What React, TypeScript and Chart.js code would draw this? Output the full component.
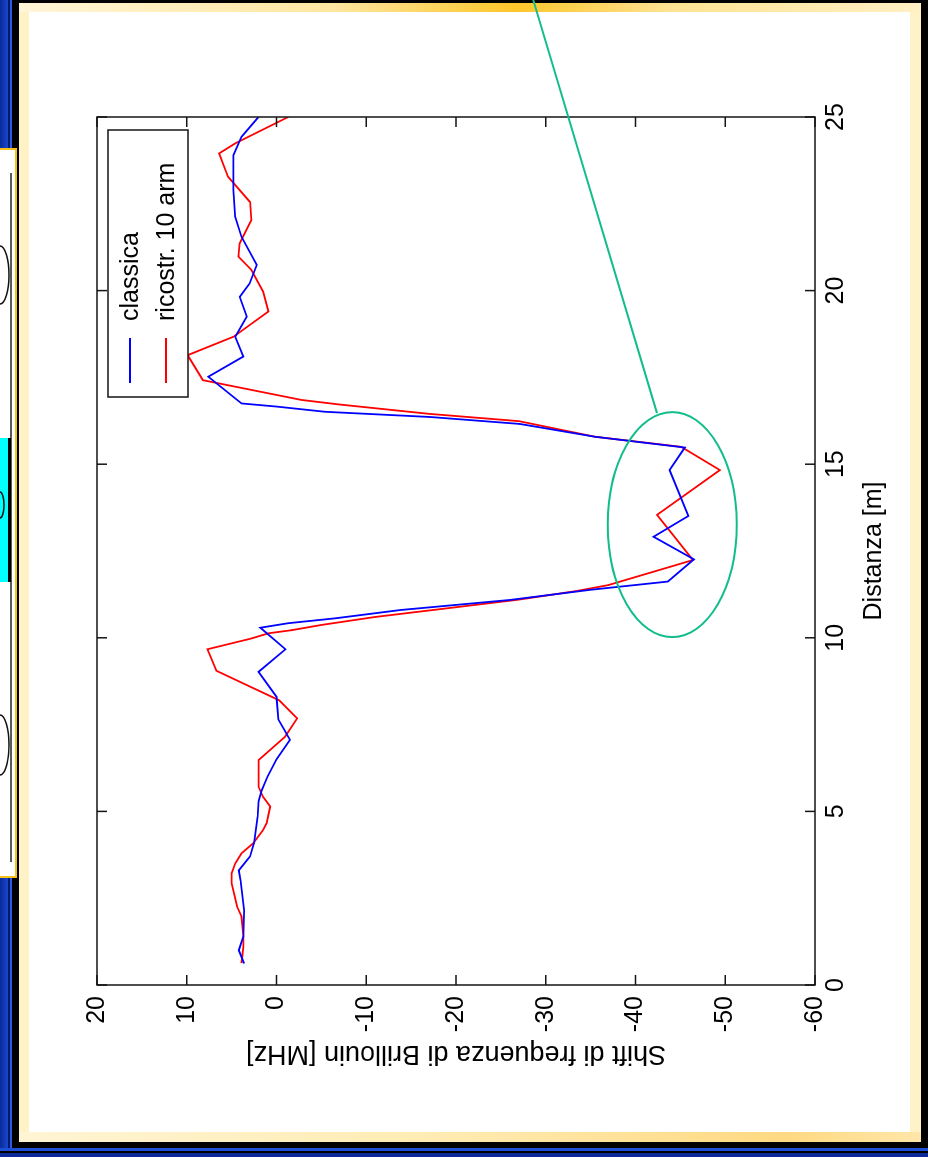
import React, { useEffect, useRef } from 'react';
import { Chart, registerables } from 'chart.js';

Chart.register(...registerables);

// Series names
const SERIES_NAMES = ['classica', 'ricostr. 10 arm'];

// "classica": distance [m] and Brillouin shift [MHz]
const classicaDist = [
  0.62, 1.0, 1.4, 2.15, 3.0, 3.3, 3.7, 4.1, 4.85, 5.3,
  5.6, 6.0, 6.5, 7.06, 7.34, 7.65, 8.3, 9.02, 9.67, 10.29,
  10.42, 10.56, 10.8, 11.09, 11.38, 11.62, 12.26, 12.91, 13.51, 14.83,
  15.48, 15.79, 16.16, 16.36, 16.51, 16.66, 16.75, 17.52, 18.1, 18.67,
  19.25, 19.82, 20.2, 20.74, 21.55, 22.13, 22.9, 23.9, 24.43, 25.0,
];
const classicaShift = [
  3.6, 4.2, 3.7, 3.6, 4.0, 4.2, 2.95, 2.5, 2.1, 2.0,
  1.65, 1.0, 0.0, -1.5, -0.9, -0.2, 0.0, 2.0, -1.0, 1.8,
  -1.3, -6.5, -13.8, -26.0, -34.9, -43.6, -46.5, -42.0, -45.9, -43.8,
  -45.5, -35.5, -27.1, -17.1, -5.4, 0.0, 3.9, 7.6, 3.7, 4.6,
  3.3, 4.1, 3.0, 2.2, 3.9, 4.6, 4.8, 4.8, 3.9, 2.0,
];

// "ricostr. 10 arm": distance [m] and Brillouin shift [MHz]
const ricostrDist = [
  0.63, 1.1, 1.4, 1.97, 2.26, 2.93, 3.22, 3.5, 3.79, 4.08,
  4.46, 4.66, 5.14, 5.42, 5.71, 6.48, 7.15, 7.68, 8.2, 9.05,
  9.67, 9.98, 10.13, 10.22, 10.37, 10.6, 10.85, 11.1, 11.35, 11.52,
  12.24, 13.54, 14.83, 15.5, 15.79, 16.24, 16.45, 16.72, 16.85, 17.42,
  18.14, 18.67, 19.4, 19.97, 20.6, 20.98, 21.36, 22.03, 22.55, 23.28,
  23.95, 24.24, 25.0,
];
const ricostrShift = [
  3.9, 3.7, 3.7, 3.9, 4.4, 5.0, 5.0, 4.6, 3.9, 2.6,
  1.5, 1.1, 0.7, 1.5, 2.0, 2.0, -0.95, -2.3, -0.3, 6.7,
  7.7, 2.8, 0.9, -1.7, -5.0, -11.0, -19.0, -27.0, -33.5, -37.0,
  -46.4, -42.4, -49.4, -45.1, -35.5, -27.0, -17.0, -7.0, -2.8, 8.2,
  9.9, 4.8, 0.9, 1.5, 2.8, 4.25, 4.1, 2.8, 2.95, 5.4,
  6.4, 4.6, -1.3,
];

// Axis ranges and tick steps
const DIST_MIN = 0;
const DIST_MAX = 25;
const DIST_STEP = 5;
const SHIFT_MIN = -60;
const SHIFT_MAX = 20;
const SHIFT_STEP = 10;

const X_TITLE = 'Distanza [m]';
const Y_TITLE = 'Shift di frequenza di Brillouin [MHz]';

// Highlighted region (ellipse in data units) and its pointer line
const HILITE_DIST = 13.26;
const HILITE_SHIFT = -44.1;
const HILITE_RDIST = 3.24;
const HILITE_RSHIFT = 7.19;
const POINTER_FROM = [28.46, -28.5];
const POINTER_TO = [16.47, -42.4];

const FONT = '"Liberation Sans", Arial, Helvetica, sans-serif';
const GREEN = '#12bd8b';
const SERIES_COLORS = ['#0000ff', '#ff0000'];

const axesPlugin = {
  id: 'matlabAxes',
  afterDatasetsDraw(chart: any) {
    const { ctx, chartArea } = chart;
    const { left, right, top, bottom } = chartArea;
    const xs = chart.scales.x;
    const ys = chart.scales.y;
    ctx.save();
    // axes box
    ctx.strokeStyle = '#151515';
    ctx.lineWidth = 1.5;
    ctx.strokeRect(left, top, right - left, bottom - top);
    // inward ticks on all four sides
    ctx.beginPath();
    const TL = 10;
    xs.ticks.forEach((t: any) => {
      const p = xs.getPixelForValue(t.value);
      ctx.moveTo(p, bottom);
      ctx.lineTo(p, bottom - TL);
      ctx.moveTo(p, top);
      ctx.lineTo(p, top + TL);
    });
    ys.ticks.forEach((t: any) => {
      const p = ys.getPixelForValue(t.value);
      ctx.moveTo(left, p);
      ctx.lineTo(left + TL, p);
      ctx.moveTo(right, p);
      ctx.lineTo(right - TL, p);
    });
    ctx.stroke();

    // legend box in the upper-right corner
    const bx = right - 280;
    const by = top + 11;
    const bw = 267;
    const bh = 80;
    ctx.fillStyle = '#ffffff';
    ctx.fillRect(bx, by, bw, bh);
    ctx.strokeStyle = '#151515';
    ctx.lineWidth = 1.5;
    ctx.strokeRect(bx, by, bw, bh);
    ctx.font = `25px ${FONT}`;
    ctx.textBaseline = 'middle';
    ctx.textAlign = 'left';
    chart.data.datasets.forEach((ds: any, i: number) => {
      const rowY = by + 22 + i * 36;
      ctx.strokeStyle = ds.borderColor;
      ctx.lineWidth = 1.8;
      ctx.beginPath();
      ctx.moveTo(bx + 14, rowY);
      ctx.lineTo(bx + 59, rowY);
      ctx.stroke();
      ctx.fillStyle = '#000000';
      ctx.fillText(ds.label, bx + 76, rowY + 1);
    });
    ctx.restore();
  },
  afterDraw(chart: any) {
    const { ctx } = chart;
    const xs = chart.scales.x;
    const ys = chart.scales.y;
    const cx = xs.getPixelForValue(HILITE_DIST);
    const cy = ys.getPixelForValue(HILITE_SHIFT);
    const rx = Math.abs(xs.getPixelForValue(HILITE_DIST + HILITE_RDIST) - cx);
    const ry = Math.abs(ys.getPixelForValue(HILITE_SHIFT + HILITE_RSHIFT) - cy);
    ctx.save();
    ctx.strokeStyle = GREEN;
    ctx.lineWidth = 2;
    ctx.beginPath();
    ctx.ellipse(cx, cy, rx, ry, 0, 0, Math.PI * 2);
    ctx.stroke();
    ctx.beginPath();
    ctx.moveTo(xs.getPixelForValue(POINTER_FROM[0]), ys.getPixelForValue(POINTER_FROM[1]));
    ctx.lineTo(xs.getPixelForValue(POINTER_TO[0]), ys.getPixelForValue(POINTER_TO[1]));
    ctx.stroke();
    ctx.restore();
  },
};

function ShiftChart() {
  const ref = useRef<HTMLCanvasElement | null>(null);
  useEffect(() => {
    if (!ref.current) return;
    const makeData = (d: number[], v: number[]) => d.map((x, i) => ({ x, y: v[i] }));
    const chart = new Chart(ref.current, {
      type: 'line',
      data: {
        datasets: [
          {
            label: SERIES_NAMES[0],
            data: makeData(classicaDist, classicaShift),
            borderColor: SERIES_COLORS[0],
            borderWidth: 1.8,
            pointRadius: 0,
            fill: false,
            tension: 0,
          },
          {
            label: SERIES_NAMES[1],
            data: makeData(ricostrDist, ricostrShift),
            borderColor: SERIES_COLORS[1],
            borderWidth: 1.8,
            pointRadius: 0,
            fill: false,
            tension: 0,
          },
        ],
      },
      options: {
        responsive: false,
        maintainAspectRatio: false,
        animation: false,
        devicePixelRatio: 1,
        layout: { padding: { top: 97, right: 117, left: 0, bottom: 0 } },
        plugins: { legend: { display: false }, tooltip: { enabled: false } },
        scales: {
          x: {
            type: 'linear',
            position: 'bottom',
            min: DIST_MIN,
            max: DIST_MAX,
            ticks: {
              stepSize: DIST_STEP,
              autoSkip: false,
              maxRotation: 0,
              minRotation: 0,
              padding: 6,
              color: '#000',
              font: { family: FONT, size: 25 },
            },
            grid: { display: false, drawTicks: false, tickLength: 0 },
            border: { display: false },
            title: {
              display: true,
              text: X_TITLE,
              color: '#000',
              font: { family: FONT, size: 25 },
              padding: { top: 0, bottom: 39 },
            },
            afterFit: (s: any) => {
              s.height = 113;
            },
          },
          y: {
            type: 'linear',
            position: 'left',
            min: SHIFT_MIN,
            max: SHIFT_MAX,
            ticks: {
              stepSize: SHIFT_STEP,
              autoSkip: false,
              padding: 11,
              color: '#000',
              font: { family: FONT, size: 25 },
            },
            grid: { display: false, drawTicks: false, tickLength: 0 },
            border: { display: false },
            title: {
              display: true,
              text: Y_TITLE,
              color: '#000',
              font: { family: FONT, size: 27 },
              padding: { top: 87, bottom: 0 },
            },
            afterFit: (s: any) => {
              s.width = 172;
            },
          },
        },
      } as any,
      plugins: [axesPlugin],
    });
    return () => chart.destroy();
  }, []);
  return <canvas ref={ref} width={1157} height={928} style={{ width: 1157, height: 928, display: 'block' }} />;
}

const rect = (left: number, top: number, width: number, height: number, background: string): React.CSSProperties => ({
  position: 'absolute',
  left,
  top,
  width,
  height,
  background,
});

export default function App() {
  return (
    <div style={{ position: 'absolute', left: 0, top: 0, width: 928, height: 1157, overflow: 'hidden', background: '#0c2ea6' }}>
      {/* slide background stripes */}
      <div style={rect(0, 0, 8, 1157, 'linear-gradient(to right,#0a2a9a,#1848cc)')} />
      <div style={rect(8, 0, 2, 1157, '#061a66')} />
      <div style={rect(10, 0, 2, 1157, '#2a5ae6')} />
      <div style={rect(0, 1148, 928, 3, '#1f4fd8')} />
      <div style={rect(0, 1151, 928, 2, '#000')} />
      <div style={rect(0, 1153, 928, 4, '#0b2a98')} />
      {/* picture frame */}
      <div style={rect(12, 0, 916, 1148, '#000')} />
      <div style={rect(19, 3, 902, 1139, '#fff2c6')} />
      <div
        style={rect(
          19,
          3,
          902,
          9,
          'linear-gradient(to right,#fff6d8 0%,#ffe7a0 35%,#ffc62a 55%,#ffe392 72%,#fff0c4 100%)'
        )}
      />
      <div
        style={rect(
          19,
          1132,
          902,
          10,
          'linear-gradient(to right,#fff5d4 0%,#ffecb4 45%,#ffd982 85%,#ffe6a8 100%)'
        )}
      />
      <div style={rect(29, 12, 881, 1120, '#ffffff')} />
      {/* neighbouring slide object at the left edge */}
      <div
        style={{
          position: 'absolute',
          left: 0,
          top: 148,
          width: 17,
          height: 730,
          background: '#fff',
          borderTop: '2px solid #f6c21a',
          borderRight: '2px solid #f6c21a',
          borderBottom: '2px solid #f6c21a',
          boxSizing: 'border-box',
        }}
      />
      <div style={rect(10, 173, 1.5, 689, '#5a5a5a')} />
      <div style={rect(0, 438, 8, 144, '#00ffff')} />
      <div style={rect(8, 438, 3, 144, '#000')} />
      <svg style={{ position: 'absolute', left: 0, top: 0 }} width={20} height={1157}>
        <path d="M0 246 A9 29 0 0 1 0 304" fill="none" stroke="#111" strokeWidth={1.5} />
        <path d="M0 715 A9 30 0 0 1 0 775" fill="none" stroke="#111" strokeWidth={1.5} />
        <path d="M0 492 A4 13 0 0 1 0 518" fill="none" stroke="#111" strokeWidth={1.5} />
      </svg>
      {/* chart, turned a quarter turn counter-clockwise */}
      <div
        style={{
          position: 'absolute',
          left: 0,
          top: 0,
          width: 1157,
          height: 928,
          transformOrigin: '0 0',
          transform: 'translate(0px, 1157px) rotate(-90deg)',
        }}
      >
        <ShiftChart />
      </div>
    </div>
  );
}
